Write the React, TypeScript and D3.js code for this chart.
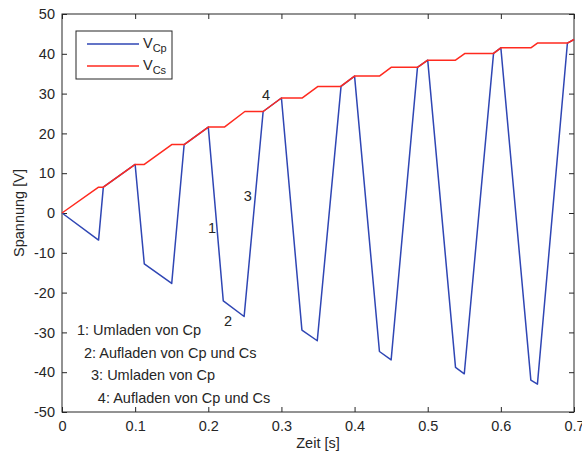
import React, { useRef, useEffect } from 'react';
import * as d3 from 'd3';

// breakpoints of the two voltage traces (time in s, voltage in V)
const timeCs = [0, 0.05, 0.0565, 0.1, 0.1125, 0.15, 0.167, 0.2, 0.222, 0.25, 0.275, 0.3, 0.3286, 0.35, 0.381, 0.4, 0.434, 0.45, 0.486, 0.5, 0.538, 0.551, 0.59, 0.6, 0.641, 0.65, 0.691, 0.7];
const voltCs = [0, 6.5, 6.5, 12.2, 12.2, 17.2, 17.2, 21.6, 21.6, 25.5, 25.5, 28.9, 28.9, 31.8, 31.8, 34.4, 34.4, 36.6, 36.6, 38.4, 38.4, 40.1, 40.1, 41.5, 41.5, 42.7, 42.7, 43.6];

const timeCp = [0, 0.05, 0.0565, 0.1, 0.1125, 0.15, 0.167, 0.2, 0.2205, 0.249, 0.275, 0.3, 0.328, 0.349, 0.3815, 0.4, 0.434, 0.45, 0.486, 0.5, 0.538, 0.55, 0.59, 0.6, 0.641, 0.65, 0.691, 0.7];
const voltCp = [0, -6.8, 6.5, 12.2, -12.8, -17.7, 17.2, 21.6, -22.1, -26, 25.5, 28.9, -29.4, -32.1, 31.8, 34.4, -34.8, -36.9, 36.6, 38.4, -38.8, -40.4, 40.1, 41.5, -42, -43, 42.7, 43.6];

const xTicks = [0, 0.1, 0.2, 0.3, 0.4, 0.5, 0.6, 0.7];
const yTicks = [-50, -40, -30, -20, -10, 0, 10, 20, 30, 40, 50];

// phase markers on the plot
const markerLabels = ['1', '2', '3', '4'];
const markerT = [0.205, 0.227, 0.254, 0.279];
const markerV = [-3.8, -27, 4.3, 29.7];

// explanation list
const noteLines = ['1: Umladen von Cp', '2: Aufladen von Cp und Cs', '3: Umladen von Cp', '4: Aufladen von Cp und Cs'];
const noteT = [0.0205, 0.030, 0.0397, 0.049];
const noteV = [-29.5, -35.1, -40.8, -46.4];

const BLUE = '#2f46b4';
const RED = '#ff2a1f';
const AXIS = '#262626';
const FONT = '"Liberation Sans", Arial, sans-serif';
const FS = '14.5px';

const App = () => {
  const svgRef = useRef();

  useEffect(() => {
    const W = 582, H = 459;
    const margin = { top: 14, right: 8, bottom: 47, left: 62 };
    const width = W - margin.left - margin.right;
    const height = H - margin.top - margin.bottom;

    d3.select(svgRef.current).selectAll('*').remove();

    const svg = d3.select(svgRef.current)
      .attr('width', W)
      .attr('height', H)
      .append('g')
      .attr('transform', `translate(${margin.left},${margin.top})`);

    const x = d3.scaleLinear().domain([0, 0.7]).range([0, width]);
    const y = d3.scaleLinear().domain([-50, 50]).range([height, 0]);

    const styleAxis = (g) => {
      g.selectAll('path').remove();
      g.selectAll('line').attr('stroke', AXIS);
      g.selectAll('text').attr('fill', AXIS).style('font-family', FONT).style('font-size', FS);
    };

    // axes with inward ticks, MATLAB style
    svg.append('g')
      .attr('transform', `translate(0,${height})`)
      .call(d3.axisBottom(x).tickValues(xTicks).tickSizeInner(-5).tickSizeOuter(0).tickPadding(9).tickFormat(d => String(d)))
      .call(styleAxis);
    svg.append('g')
      .call(d3.axisTop(x).tickValues(xTicks).tickSizeInner(-5).tickSizeOuter(0).tickFormat(() => ''))
      .call(styleAxis);
    svg.append('g')
      .call(d3.axisLeft(y).tickValues(yTicks).tickSizeInner(-5).tickSizeOuter(0).tickPadding(7).tickFormat(d => String(d)))
      .call(styleAxis);
    svg.append('g')
      .attr('transform', `translate(${width},0)`)
      .call(d3.axisRight(y).tickValues(yTicks).tickSizeInner(-5).tickSizeOuter(0).tickFormat(() => ''))
      .call(styleAxis);

    svg.append('rect')
      .attr('width', width)
      .attr('height', height)
      .attr('fill', 'none')
      .attr('stroke', AXIS)
      .attr('stroke-width', 1);

    // traces
    const line = d3.line()
      .x(d => x(d[0]))
      .y(d => y(d[1]));

    svg.append('path')
      .datum(timeCp.map((t, i) => [t, voltCp[i]]))
      .attr('fill', 'none')
      .attr('stroke', BLUE)
      .attr('stroke-width', 1.5)
      .attr('stroke-linejoin', 'round')
      .attr('d', line);

    svg.append('path')
      .datum(timeCs.map((t, i) => [t, voltCs[i]]))
      .attr('fill', 'none')
      .attr('stroke', RED)
      .attr('stroke-width', 1.5)
      .attr('stroke-linejoin', 'round')
      .attr('d', line);

    // phase numbers
    svg.selectAll('.marker')
      .data(markerLabels)
      .enter().append('text')
      .attr('class', 'marker')
      .attr('x', (d, i) => x(markerT[i]))
      .attr('y', (d, i) => y(markerV[i]))
      .attr('dy', '0.35em')
      .attr('text-anchor', 'middle')
      .attr('fill', AXIS)
      .style('font-family', FONT)
      .style('font-size', FS)
      .text(d => d);

    // notes
    svg.selectAll('.note')
      .data(noteLines)
      .enter().append('text')
      .attr('class', 'note')
      .attr('x', (d, i) => x(noteT[i]))
      .attr('y', (d, i) => y(noteV[i]))
      .attr('dy', '0.35em')
      .attr('fill', AXIS)
      .style('font-family', FONT)
      .style('font-size', FS)
      .text(d => d);

    // legend
    const legend = svg.append('g').attr('transform', 'translate(14,17)');
    legend.append('rect')
      .attr('width', 96)
      .attr('height', 48)
      .attr('fill', 'white')
      .attr('stroke', AXIS)
      .attr('stroke-width', 1);
    const entries = [{ c: BLUE, sub: 'Cp' }, { c: RED, sub: 'Cs' }];
    entries.forEach((e, i) => {
      const row = legend.append('g').attr('transform', `translate(0,${13 + i * 22})`);
      row.append('line')
        .attr('x1', 11).attr('x2', 63)
        .attr('stroke', e.c)
        .attr('stroke-width', 1.5);
      const t = row.append('text')
        .attr('x', 67)
        .attr('dy', '0.3em')
        .attr('fill', AXIS)
        .style('font-family', FONT)
        .style('font-size', FS);
      t.append('tspan').text('V');
      t.append('tspan').attr('dy', 4).style('font-size', '11px').text(e.sub);
    });

    // axis labels
    svg.append('text')
      .attr('x', width / 2)
      .attr('y', height + 36)
      .attr('text-anchor', 'middle')
      .attr('fill', AXIS)
      .style('font-family', FONT)
      .style('font-size', FS)
      .text('Zeit [s]');

    svg.append('text')
      .attr('transform', `translate(${-38},${height / 2}) rotate(-90)`)
      .attr('text-anchor', 'middle')
      .attr('fill', AXIS)
      .style('font-family', FONT)
      .style('font-size', FS)
      .text('Spannung [V]');
  }, []);

  return (
    <svg ref={svgRef} style={{ position: 'absolute', left: 0, top: 0, background: 'white' }}></svg>
  );
};

export default App;
